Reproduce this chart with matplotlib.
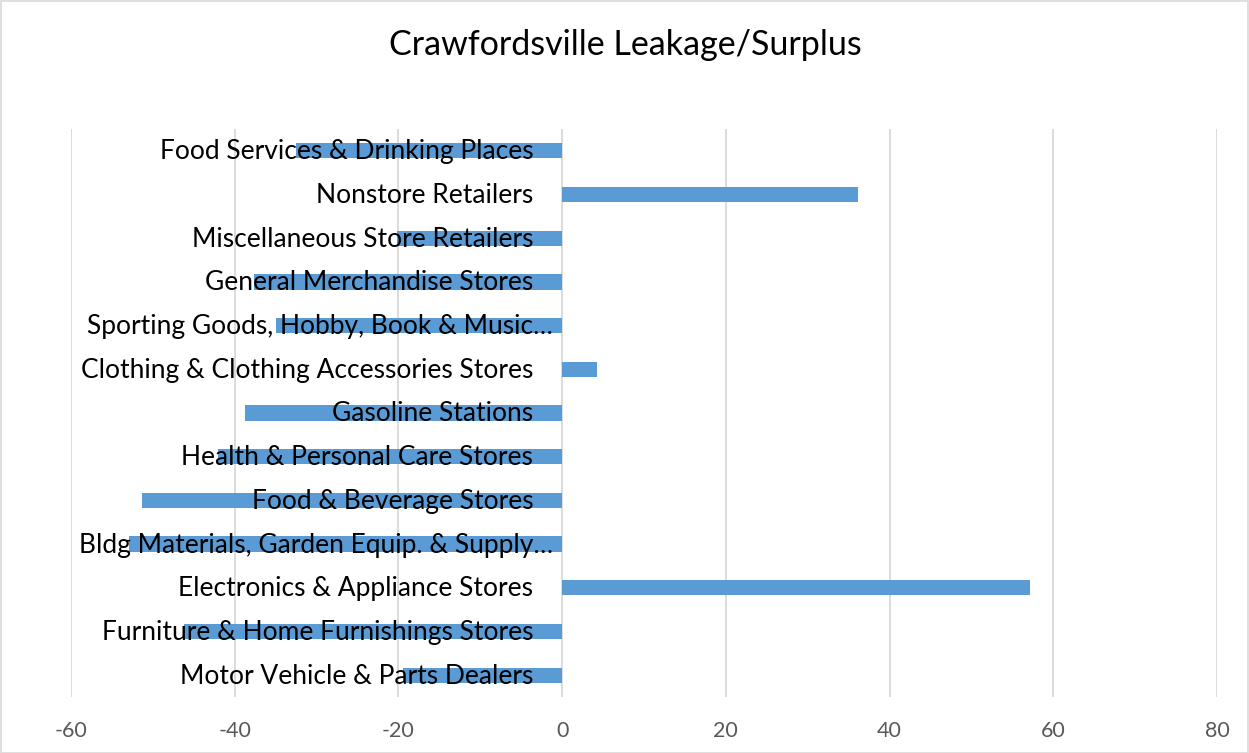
import matplotlib
matplotlib.use("Agg")
import matplotlib.pyplot as plt
from matplotlib.transforms import offset_copy
from matplotlib.patches import Rectangle

categories = [
    "Motor Vehicle & Parts Dealers",
    "Furniture & Home Furnishings Stores",
    "Electronics & Appliance Stores",
    "Bldg Materials, Garden Equip. & Supply…",
    "Food & Beverage Stores",
    "Health & Personal Care Stores",
    "Gasoline Stations",
    "Clothing & Clothing Accessories Stores",
    "Sporting Goods, Hobby, Book & Music…",
    "General Merchandise Stores",
    "Miscellaneous Store Retailers",
    "Nonstore Retailers",
    "Food Services & Drinking Places",
]
values = [-19.4, -46.2, 57.2, -52.9, -51.3, -42.1, -38.7, 4.3, -35.0, -37.6, -20.2, 36.2, -32.5]
xticks = [-60, -40, -20, 0, 20, 40, 60, 80]
title = "Crawfordsville Leakage/Surplus"

plt.rcParams['font.family'] = ['Lato', 'DejaVu Sans']

fig = plt.figure(figsize=(12.49, 7.53), dpi=100)
W, H = 1249, 753
ax = fig.add_axes([71 / W, 1 - 697 / H, (1217 - 71) / W, (697 - 129) / H])

y = list(range(len(categories)))
ax.barh(y, values, height=0.35, color="#5B9BD5", zorder=2)

ax.set_xlim(-60, 80)
ax.set_ylim(-0.5, len(categories) - 0.5)
ax.set_xticks(xticks)
ax.set_xticklabels([str(t) for t in xticks])
ax.set_yticks([])
ax.tick_params(axis='x', length=0, pad=17, labelsize=15.5, labelcolor="#595959")
ax.grid(axis='x', color="#d9d9d9", linewidth=1.3)
ax.xaxis.set_zorder(0.5)
for s in ax.spines.values():
    s.set_visible(False)

for i, lab in enumerate(categories):
    dx = -29 if not lab.endswith("…") else -9
    tr = offset_copy(ax.transData, fig=fig, x=dx, y=-1, units='dots')
    ax.text(0, i, lab, transform=tr, ha='right', va='center',
            fontsize=19, color="black", zorder=5)

fig.text(625 / W, 1 - 45 / H, title, ha='center', va='center', fontsize=24.5, color="black")

fig.patches.append(Rectangle((0.5 / W, 0.5 / H), 1 - 1.5 / W, 1 - 1.5 / H,
                             transform=fig.transFigure, fill=False,
                             edgecolor="#d9d9d9", linewidth=1.2))

fig.savefig("out.png", dpi=100, facecolor="white")
